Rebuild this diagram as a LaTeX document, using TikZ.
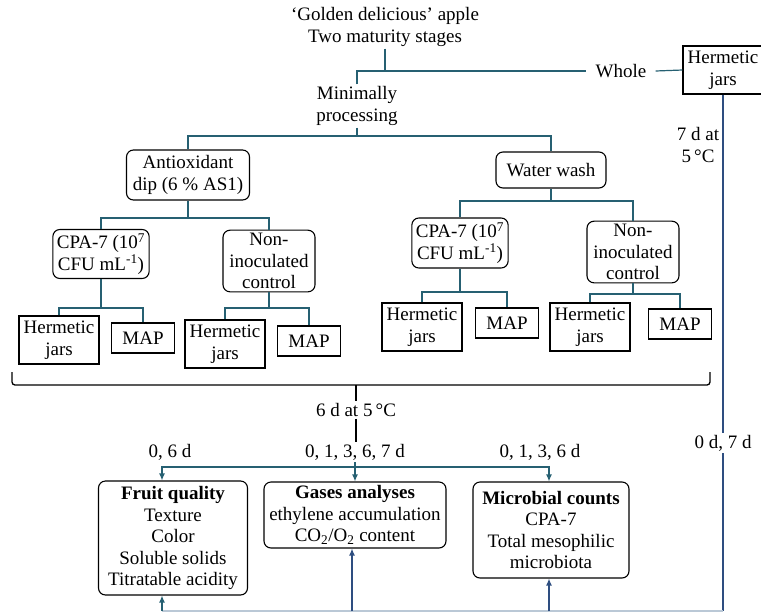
\documentclass[tikz,border=0pt]{standalone}
\usepackage{fontspec}
\setmainfont{Liberation Serif}
\usepackage{xcolor}
\definecolor{lineteal}{RGB}{38, 96, 114}
\definecolor{linenavy}{RGB}{46, 78, 128}
\definecolor{linepale}{RGB}{186, 200, 214}
\usepackage{tikz}
\usetikzlibrary{arrows.meta, positioning}

\begin{document}
\begin{tikzpicture}[x=1pt, y=-1pt, >={Latex[length=7pt, width=6pt]},
    every node/.style={font=\fontsize{19}{21.5}\selectfont, align=center, inner sep=2pt},
    plainbox/.style={draw, line width=1.1pt, inner xsep=3pt, inner ysep=2pt},
    jarbox/.style={plainbox, minimum width=80pt, minimum height=48pt},
    mapbox/.style={plainbox, minimum width=63pt, minimum height=30pt},
    roundbox/.style={draw, line width=1.1pt, rounded corners=7pt, inner xsep=4pt, inner ysep=3pt},
    flow/.style={lineteal, line width=1.2pt},
    navyflow/.style={linenavy, line width=1.2pt},
    paleflow/.style={linepale, line width=1.2pt},
    bracket/.style={black, line width=1.3pt, rounded corners=3pt}]
    \useasboundingbox (0,0) rectangle (761,614);

    % raw material
    \node (apple) at (385,27) {`Golden delicious' apple\\Two maturity stages};
    \node[inner xsep=9pt] (whole) at (621,71) {Whole};
    \node[jarbox] (jarsW) at (723,70) {Hermetic\\jars};
    \node (store7) at (698,145) {7 d at\\5\,\textdegree C};
    \node (minproc) at (357,106) {Minimally\\processing};

    % treatments
    \node[roundbox, minimum width=123pt, minimum height=50pt] (dip) at (188,175) {Antioxidant\\dip (6 \% AS1)};
    \node[roundbox, minimum width=110pt, minimum height=36pt] (wash) at (551,170) {Water wash};

    \node[roundbox, minimum width=92pt, minimum height=49pt] (cpaD) at (101,254) {CPA-7 (10\textsuperscript{7}\\CFU mL\textsuperscript{-1})};
    \node[roundbox, minimum width=92pt, minimum height=61pt] (nonD) at (269,261) {Non-\\inoculated\\control};
    \node[roundbox, minimum width=92pt, minimum height=50pt] (cpaW) at (460,243) {CPA-7 (10\textsuperscript{7}\\CFU mL\textsuperscript{-1})};
    \node[roundbox, minimum width=92pt, minimum height=60pt] (nonW) at (633,252) {Non-\\inoculated\\control};

    % packaging
    \node[jarbox] (jarsD1) at (59,340) {Hermetic\\jars};
    \node[mapbox] (mapD1) at (143,338) {MAP};
    \node[jarbox] (jarsD2) at (225,344) {Hermetic\\jars};
    \node[mapbox] (mapD2) at (309,341) {MAP};
    \node[jarbox] (jarsW1) at (422,327) {Hermetic\\jars};
    \node[mapbox] (mapW1) at (507,323) {MAP};
    \node[jarbox] (jarsW2) at (590,327) {Hermetic\\jars};
    \node[mapbox] (mapW2) at (680,324) {MAP};

    % storage and sampling
    \node (store6) at (356,410) {6 d at 5\,\textdegree C};
    \node (daysF) at (170,452) {0, 6 d};
    \node (daysG) at (355,452) {0, 1, 3, 6, 7 d};
    \node (daysM) at (540,452) {0, 1, 3, 6 d};
    \node (daysW) at (723,443) {0 d, 7 d};

    % analyses
    \node[roundbox, minimum width=149pt, minimum height=114pt] (fruit) at (173,538)
        {\textbf{Fruit quality}\\Texture\\Color\\Soluble solids\\Titratable acidity};
    \node[roundbox, minimum width=182pt, minimum height=66pt] (gases) at (355,515)
        {\textbf{Gases analyses}\\ethylene accumulation\\CO\textsubscript{2}/O\textsubscript{2} content};
    \node[roundbox, minimum width=156pt, minimum height=96pt] (micro) at (551,530)
        {\textbf{Microbial counts}\\CPA-7\\Total mesophilic\\microbiota};

    % junctions
    \coordinate (jTop) at (385,71);
    \coordinate (jMin) at (357,136);
    \coordinate (jDip) at (188,218);
    \coordinate (jWash) at (551,201);
    \coordinate (jCpaD) at (101,308);
    \coordinate (jNonD) at (269,308);
    \coordinate (jCpaW) at (460,292);
    \coordinate (jNonW) at (633,294);
    \coordinate (jBrace) at (356,385);
    \coordinate (jDays) at (355,467);
    \coordinate (fTop) at (162,467);
    \coordinate (mTop) at (549,467);
    \coordinate (jBot) at (723,611);
    \coordinate (fFoot) at (162,611);
    \coordinate (gFoot) at (352,611);
    \coordinate (mFoot) at (549,611);

    % tree
    \draw[flow] (apple.south) -- (jTop);
    \draw[flow] (minproc.north) |- (whole.west);
    \draw[flow] (whole.east) -- (jarsW.west);
    \draw[flow] (minproc.south) -- (jMin);
    \draw[flow] (dip.north) |- (jMin) -| (wash.north);

    \draw[flow] (dip.south) -- (jDip);
    \draw[flow] (cpaD.north) |- (jDip) -| (nonD.north);
    \draw[flow] (wash.south) -- (jWash);
    \draw[flow] (cpaW.north) |- (jWash) -| (nonW.north);

    \draw[flow] (cpaD.south) -- (jCpaD);
    \draw[flow] (jarsD1.north) |- (jCpaD) -| (mapD1.north);
    \draw[flow] (nonD.south) -- (jNonD);
    \draw[flow] (jarsD2.north) |- (jNonD) -| (mapD2.north);
    \draw[flow] (cpaW.south) -- (jCpaW);
    \draw[flow] (jarsW1.north) |- (jCpaW) -| (mapW1.north);
    \draw[flow] (nonW.south) -- (jNonW);
    \draw[flow] (jarsW2.north) |- (jNonW) -| (mapW2.north);

    % storage bracket
    \draw[bracket] (12,372) -- (12,385) -- (710,385) -- (710,372);
    \draw[black, line width=1.3pt] (jBrace) -- (jBrace |- store6.north);
    \draw[black, line width=1.1pt] (store6.south) -- (store6.south |- daysG.north);

    % sampling arrows
    \draw[flow, ->] (daysG.south) -- (gases.north);
    \draw[flow, ->] (jDays) -| (fTop |- fruit.north);
    \draw[flow, ->] (jDays) -| (mTop |- micro.north);

    % whole fruit line
    \draw[navyflow] (jarsW.south) -- (daysW.north);
    \draw[navyflow] (daysW.south) -- (jBot);
    \draw[paleflow] (jBot) -- (fFoot);
    \draw[flow, ->] (fFoot) -- (fFoot |- fruit.south);
    \draw[navyflow, ->] (gFoot) -- (gFoot |- gases.south);
    \draw[navyflow, ->] (mFoot) -- (mFoot |- micro.south);
\end{tikzpicture}
\end{document}
